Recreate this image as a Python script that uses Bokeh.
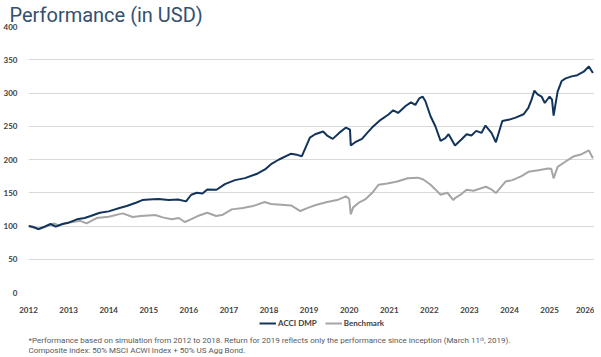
from bokeh.plotting import figure
from bokeh.layouts import column
from bokeh.models import Range1d, FixedTicker, Legend, LegendItem, ColumnDataSource
from bokeh.core.properties import value
from bokeh.embed import file_html
from bokeh.resources import INLINE

# ---- data (x = position on the year axis) ----
acci_x = [2012.00, 2012.10, 2012.25, 2012.40, 2012.55, 2012.68, 2012.85, 2013.00, 2013.21, 2013.40,
          2013.55, 2013.78, 2014.00, 2014.27, 2014.45, 2014.68, 2014.84, 2015.00, 2015.24, 2015.50,
          2015.73, 2015.93, 2016.06, 2016.20, 2016.34, 2016.46, 2016.69, 2016.90, 2017.15, 2017.40,
          2017.72, 2017.90, 2018.05, 2018.25, 2018.54, 2018.70, 2018.82, 2019.02, 2019.15, 2019.35,
          2019.45, 2019.59, 2019.75, 2019.92, 2020.02, 2020.04, 2020.15, 2020.32, 2020.45, 2020.57,
          2020.75, 2020.98, 2021.10, 2021.22, 2021.40, 2021.54, 2021.65, 2021.75, 2021.83, 2021.90,
          2022.03, 2022.15, 2022.28, 2022.40, 2022.48, 2022.64, 2022.80, 2022.93, 2023.05, 2023.17,
          2023.30, 2023.40, 2023.55, 2023.66, 2023.82, 2024.00, 2024.15, 2024.35, 2024.47, 2024.55,
          2024.62, 2024.70, 2024.80, 2024.88, 2025.00, 2025.06, 2025.10, 2025.20, 2025.30, 2025.40,
          2025.55, 2025.69, 2025.85, 2025.98, 2026.05, 2026.08]
acci_y = [100, 99, 95.5, 99, 103, 99, 103, 105, 110, 112,
          115, 120, 122, 127, 130, 135, 139, 140, 140.7, 139,
          139.8, 137, 147, 150, 149, 155, 154.5, 163, 169, 172,
          179, 185, 193, 200, 208.6, 207, 205, 233, 238, 242,
          236, 231, 240, 248, 245, 221, 226, 231, 240, 248,
          258, 267.6, 274, 270, 280, 286, 282, 292, 294.7, 288,
          265, 250, 228, 232, 238, 221, 230, 238, 236, 243,
          240, 251, 240, 226, 258, 260, 263, 268, 277.5, 290,
          303.6, 298, 294.7, 285, 294.7, 290, 266, 302, 318, 322,
          325, 326.7, 332, 340, 333, 330]

bench_x = [2012.00, 2012.10, 2012.25, 2012.40, 2012.55, 2012.64, 2012.75, 2012.90, 2013.10, 2013.29,
           2013.45, 2013.70, 2014.00, 2014.35, 2014.60, 2014.80, 2015.16, 2015.35, 2015.57, 2015.75,
           2015.90, 2016.05, 2016.22, 2016.46, 2016.68, 2016.85, 2017.07, 2017.35, 2017.60, 2017.89,
           2018.05, 2018.30, 2018.55, 2018.78, 2019.00, 2019.19, 2019.45, 2019.70, 2019.92, 2020.00,
           2020.04, 2020.10, 2020.24, 2020.40, 2020.57, 2020.73, 2020.95, 2021.20, 2021.46, 2021.71,
           2021.85, 2022.03, 2022.15, 2022.28, 2022.45, 2022.60, 2022.64, 2022.80, 2022.93, 2023.10,
           2023.41, 2023.55, 2023.66, 2023.90, 2024.07, 2024.30, 2024.47, 2024.72, 2024.96, 2025.04,
           2025.10, 2025.20, 2025.40, 2025.61, 2025.80, 2025.98, 2026.08]
bench_y = [100, 98, 95, 98, 102, 104, 101, 104, 106, 107.7,
           104, 112, 114, 119, 113.6, 115, 116.6, 113, 110, 112,
           106, 110, 115, 120, 115, 117, 125, 127, 130, 136,
           133, 132, 131, 122.5, 128, 132, 136, 139, 144.6, 141,
           117.6, 128, 135, 140, 149.5, 162, 164, 166.8, 171.7, 172.7,
           170, 162, 155, 147, 150, 139, 142, 148, 154.5, 153,
           159, 155, 149.5, 166.8, 169, 175, 181.5, 184, 186.4, 186,
           171.7, 189, 197, 205, 208, 213.6, 202]

year_ticks = list(range(2012, 2027))
y_ticks = [0, 50, 100, 150, 200, 250, 300, 350, 400]

series_names = ["ACCI DMP", "Benchmark"]
series_colors = ["#12345a", "#a5a5a5"]
title_text = "Performance (in USD)"
notes = ["*Performance based on simulation from 2012 to 2018. Return for 2019 reflects only the performance since inception (March 11\u1d57\u02b0, 2019).",
         "Composite index: 50% MSCI ACWI Index + 50% US Agg Bond."]

# ---- main chart ----
p = figure(frame_width=566, frame_height=266, output_backend="svg", toolbar_location=None,
           x_range=Range1d(2012, 2026.12), y_range=Range1d(0, 400),
           min_border_left=0, min_border_right=0, min_border_top=0, min_border_bottom=0)
p.outline_line_color = None

p.title.text = title_text
p.title.text_font = "Roboto"
p.title.text_font_size = "20px"
p.title.text_font_style = "normal"
p.title.text_color = "#34506e"
p.title.offset = -19
p.title.standoff = 0

src_a = ColumnDataSource(dict(x=acci_x, y=acci_y))
src_b = ColumnDataSource(dict(x=bench_x, y=bench_y))
p.line("x", "y", source=src_b, line_color=series_colors[1], line_width=2)
p.line("x", "y", source=src_a, line_color=series_colors[0], line_width=2)

for ax in (p.xaxis[0], p.yaxis[0]):
    ax.axis_line_color = None
    ax.major_tick_line_color = None
    ax.minor_tick_line_color = None
    ax.major_label_text_font = "Lato"
    ax.major_label_text_font_style = "bold"
    ax.major_label_text_font_size = "8px"
    ax.major_label_text_color = "#404040"
p.xaxis.ticker = FixedTicker(ticks=year_ticks)
p.yaxis.ticker = FixedTicker(ticks=y_ticks)
p.xaxis.major_label_standoff = 8
p.yaxis.major_label_standoff = 5

p.xgrid.grid_line_color = None
p.ygrid.ticker = FixedTicker(ticks=y_ticks)
p.ygrid.grid_line_color = "#d9d9d9"
p.ygrid.grid_line_width = 1

# ---- footer: legend + notes ----
f = figure(width=585, height=40, output_backend="svg", toolbar_location=None,
           x_range=Range1d(0, 585), y_range=Range1d(0, 40),
           min_border_left=0, min_border_right=0, min_border_top=0, min_border_bottom=0)
f.axis.visible = False
f.grid.grid_line_color = None
f.outline_line_color = None

nan = float("nan")
leg_renderers = [f.line(x=[nan, nan], y=[nan, nan], line_color=c, line_width=2) for c in series_colors]
legend = Legend(items=[LegendItem(label=n, renderers=[r], index=0) for n, r in zip(series_names, leg_renderers)],
                orientation="horizontal", location=(231, 27),
                border_line_color=None, background_fill_alpha=0,
                label_text_font="Lato", label_text_font_style="bold",
                label_text_font_size="8px", label_text_color="#404040",
                glyph_width=17, glyph_height=8, label_standoff=2, spacing=8,
                padding=0, margin=0, label_height=8)
f.add_layout(legend, "center")

f.text(x=[0, 0], y=[15, 5], text=notes, text_font=value("Roboto"), text_font_size="8px",
       text_color="#595959", text_baseline="middle", text_align="left")

layout = column(p, f, spacing=0)
open("out.html", "w").write(file_html(layout, INLINE))
